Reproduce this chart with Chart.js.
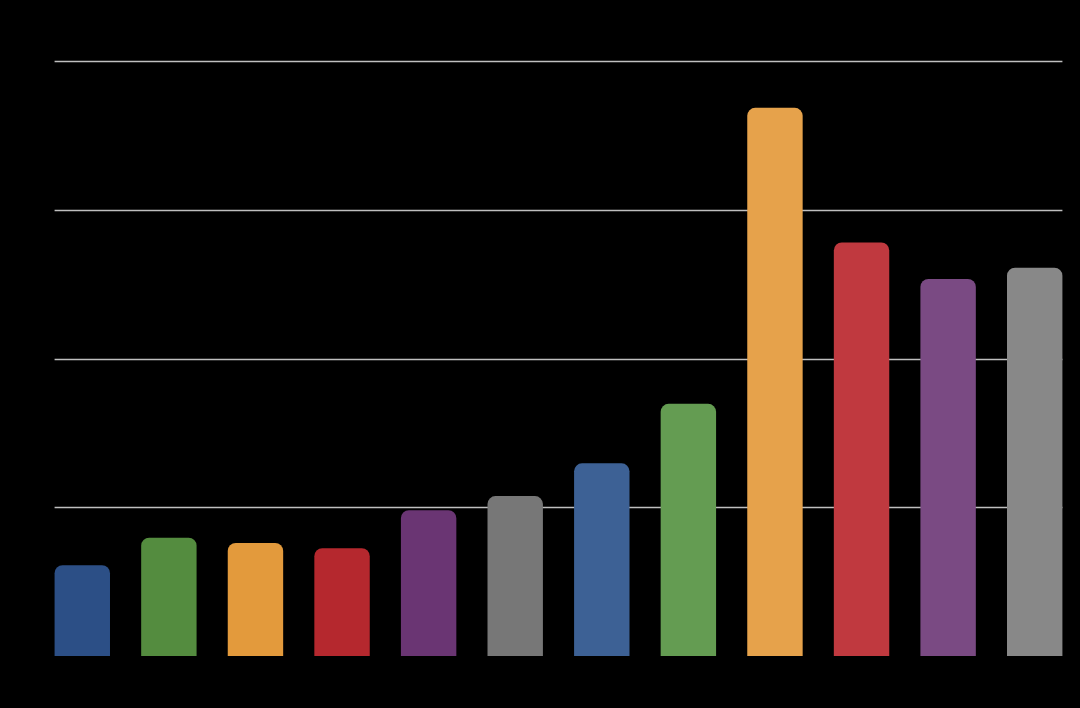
<!DOCTYPE html>
<html lang="en">
<head>
  <meta charset="UTF-8">
  <title>Bar chart</title>
  <script src="https://cdn.jsdelivr.net/npm/chart.js"></script>
  <style>
    html, body { margin: 0; padding: 0; background: #000; }
    #wrap { width: 1080px; height: 708px; }
  </style>
</head>
<body>
  <div id="wrap"><canvas id="chart" width="1080" height="708"></canvas></div>
  <script>
    const categories = ["1", "2", "3", "4", "5", "6", "7", "8", "9", "10", "11", "12"];
    const values = [12.2, 15.9, 15.2, 14.5, 19.6, 21.5, 25.9, 33.9, 73.7, 55.6, 50.7, 52.2];
    const barColors = ["#2c4f86", "#548c3f", "#e39a3c", "#b5282e", "#6a3573", "#777777",
                       "#3d6195", "#649c52", "#e6a24b", "#c0393f", "#7a4a83", "#888888"];
    const yTicks = [0, 20, 40, 60, 80];

    // gridlines only span from the first bar to the last one
    const gridPlugin = {
      id: "barGrid",
      beforeDatasetsDraw(chart) {
        const bars = chart.getDatasetMeta(0).data;
        const left = bars[0].x - bars[0].width / 2;
        const last = bars[bars.length - 1];
        const right = last.x + last.width / 2;
        const y = chart.scales.y;
        const ctx = chart.ctx;
        ctx.save();
        ctx.strokeStyle = "#bfbfbf";
        ctx.lineWidth = 1.5;
        yTicks.slice(1).forEach(t => {
          const py = Math.round(y.getPixelForValue(t)) + 0.5;
          ctx.beginPath();
          ctx.moveTo(left, py);
          ctx.lineTo(right, py);
          ctx.stroke();
        });
        ctx.restore();
      }
    };

    new Chart(document.getElementById("chart"), {
      type: "bar",
      data: {
        labels: categories,
        datasets: [{
          data: values,
          backgroundColor: barColors,
          borderRadius: { topLeft: 8, topRight: 8, bottomLeft: 0, bottomRight: 0 },
          borderSkipped: false,
          categoryPercentage: 1,
          barPercentage: 0.64
        }]
      },
      options: {
        responsive: false,
        animation: false,
        layout: { padding: { top: 61, right: 2, left: 0, bottom: 0 } },
        plugins: { legend: { display: false }, tooltip: { enabled: false } },
        scales: {
          x: {
            grid: { display: false },
            border: { display: false },
            ticks: { color: "#000", font: { size: 12 } },
            afterFit(scale) { scale.height = 52; }
          },
          y: {
            min: 0,
            max: 80,
            grid: { display: false },
            border: { display: false },
            ticks: { stepSize: 20, color: "#000", font: { size: 11 } },
            afterFit(scale) { scale.width = 39; }
          }
        }
      },
      plugins: [gridPlugin]
    });
  </script>
</body>
</html>
